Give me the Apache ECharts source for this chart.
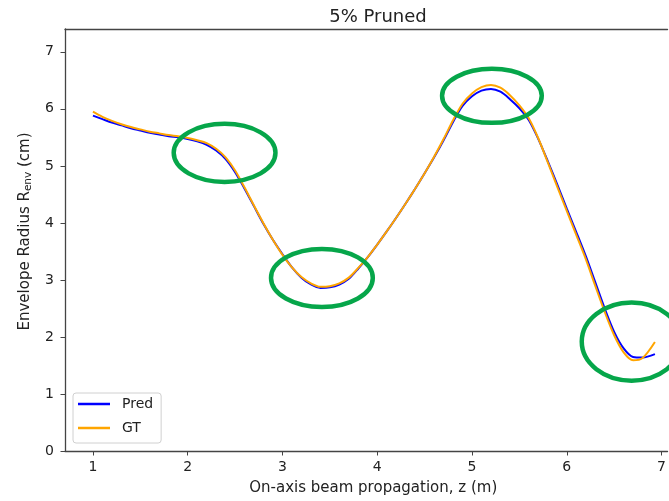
<!DOCTYPE html>
<html>
<head>
<meta charset="utf-8">
<script src="https://cdn.jsdelivr.net/npm/echarts@6/dist/echarts.min.js"></script>
<style>
  html, body { margin: 0; padding: 0; background: #fff; }
  #chart { width: 669px; height: 501px; }
</style>
</head>
<body>
<div id="chart"></div>
<script>
// ---- data ----
const titleText = '5% Pruned';
const zPos  = [1.0, 1.1, 1.2, 1.3, 1.4, 1.5, 1.6, 1.7, 1.8, 1.9,
               2.0, 2.1, 2.2, 2.3, 2.4, 2.5, 2.6, 2.7, 2.8, 2.9,
               3.0, 3.1, 3.2, 3.3, 3.4, 3.5, 3.6, 3.7, 3.8, 3.9,
               4.0, 4.1, 4.2, 4.3, 4.4, 4.5, 4.6, 4.7, 4.8, 4.9,
               5.0, 5.1, 5.2, 5.3, 5.4, 5.5, 5.6, 5.7, 5.8, 5.9,
               6.0, 6.1, 6.2, 6.3, 6.4, 6.5, 6.6, 6.7, 6.8, 6.93];
const predR = [5.88, 5.82, 5.76, 5.71, 5.66, 5.62, 5.58, 5.55, 5.52, 5.50,
               5.47, 5.43, 5.37, 5.27, 5.12, 4.89, 4.60, 4.29, 3.98, 3.70,
               3.45, 3.22, 3.04, 2.92, 2.86, 2.87, 2.92, 3.02, 3.20, 3.40,
               3.62, 3.85, 4.09, 4.34, 4.60, 4.87, 5.15, 5.45, 5.77, 6.05,
               6.22, 6.32, 6.35, 6.30, 6.17, 6.01, 5.80, 5.47, 5.08, 4.67,
               4.25, 3.84, 3.42, 2.96, 2.50, 2.09, 1.80, 1.65, 1.64, 1.70];
const gtR   = [5.95, 5.86, 5.79, 5.73, 5.68, 5.64, 5.60, 5.57, 5.54, 5.52,
               5.49, 5.45, 5.40, 5.30, 5.15, 4.92, 4.62, 4.30, 3.99, 3.70,
               3.44, 3.22, 3.05, 2.94, 2.88, 2.89, 2.94, 3.04, 3.21, 3.40,
               3.62, 3.85, 4.09, 4.34, 4.60, 4.87, 5.16, 5.47, 5.80, 6.09,
               6.27, 6.38, 6.42, 6.37, 6.24, 6.06, 5.83, 5.48, 5.06, 4.63,
               4.21, 3.79, 3.37, 2.90, 2.44, 2.03, 1.73, 1.59, 1.63, 1.91];
const xTicks = [1, 2, 3, 4, 5, 6, 7];
const yTicks = [0, 1, 2, 3, 4, 5, 6, 7];
// highlight ellipses (data units: centre z, centre R, half-width, half-height)
const ellipseZ  = [2.389, 3.416, 5.21, 6.684];
const ellipseR  = [5.228, 3.035, 6.228, 1.918];
const ellipseRz = [0.537, 0.537, 0.526, 0.526];
const ellipseRr = [0.509, 0.509, 0.474, 0.684];

const predData = zPos.map((z, i) => [z, predR[i]]);
const gtData = zPos.map((z, i) => [z, gtR[i]]);
const ellData = ellipseZ.map((z, i) => [z, ellipseR[i], ellipseRz[i], ellipseRr[i]]);

const font = 'DejaVu Sans';
const xMin = 0.705, xMax = 7.063;
const chart = echarts.init(document.getElementById('chart'), null, { renderer: 'canvas' });
chart.setOption({
  animation: false,
  backgroundColor: '#fff',
  title: {
    text: titleText,
    left: 373, top: 3, textAlign: 'center',
    textStyle: { fontFamily: font, fontSize: 18, fontWeight: 'normal', color: '#222' }
  },
  grid: { left: 65, top: 29, right: 0, bottom: 50, show: false },
  legend: {
    left: 73, top: 393, orient: 'vertical',
    padding: [4, 8, 8, 5], itemGap: 10,
    itemWidth: 32, itemHeight: 2.5, icon: 'rect',
    backgroundColor: 'rgba(255,255,255,0.8)', borderColor: '#d0d0d0', borderWidth: 1, borderRadius: 3,
    textStyle: { fontFamily: font, fontSize: 14, color: '#222', padding: [0, 0, 0, 7] },
    data: ['Pred', 'GT']
  },
  xAxis: [{
    type: 'value', min: xMin, max: xMax, position: 'bottom',
    name: 'On-axis beam propagation, z (m)', nameLocation: 'middle', nameGap: 30,
    nameTextStyle: { fontFamily: font, fontSize: 15, color: '#222', padding: [0, 0, 0, 14] },
    axisLine: { show: true, onZero: false, lineStyle: { color: '#444', width: 1.3 } },
    axisTick: { show: true, length: 4.5, customValues: xTicks, lineStyle: { color: '#444' } },
    axisLabel: { customValues: xTicks, margin: 9, fontFamily: font, fontSize: 14, color: '#222' },
    splitLine: { show: false }
  }, {
    type: 'value', min: xMin, max: xMax, position: 'top',
    axisLine: { show: true, onZero: false, lineStyle: { color: '#444', width: 1.3 } },
    axisTick: { show: false }, axisLabel: { show: false }, splitLine: { show: false }
  }],
  yAxis: {
    type: 'value', min: 0, max: 7.4,
    name: 'Envelope Radius R{sub|env} (cm)', nameLocation: 'middle', nameGap: 30,
    nameTextStyle: {
      fontFamily: font, fontSize: 15, color: '#222', padding: [0, 0, 0, 17],
      rich: { sub: { fontFamily: font, fontSize: 10.5, color: '#222', verticalAlign: 'bottom', padding: [7, 0, 0, 0] } }
    },
    axisLine: { show: true, onZero: false, lineStyle: { color: '#444', width: 1.3 } },
    axisTick: { show: true, length: 4.5, customValues: yTicks, lineStyle: { color: '#444' } },
    axisLabel: { customValues: yTicks, margin: 11, fontFamily: font, fontSize: 14, color: '#222' },
    splitLine: { show: false }
  },
  series: [
    {
      name: 'Pred', type: 'line', data: predData, smooth: 0.3, showSymbol: false,
      lineStyle: { color: '#0000ff', width: 2 }, itemStyle: { color: '#0000ff' }, z: 2
    },
    {
      name: 'GT', type: 'line', data: gtData, smooth: 0.3, showSymbol: false,
      lineStyle: { color: '#ffa500', width: 2 }, itemStyle: { color: '#ffa500' }, z: 3
    },
    {
      name: 'highlight', type: 'custom', data: ellData, z: 5, silent: true,
      clip: false,
      renderItem: function (params, api) {
        const c = api.coord([api.value(0), api.value(1)]);
        const s = api.size([api.value(2), api.value(3)]);
        return {
          type: 'ellipse',
          shape: { cx: c[0], cy: c[1], rx: s[0], ry: s[1] },
          style: { fill: 'none', stroke: '#06a64a', lineWidth: 4.5 }
        };
      }
    }
  ]
});
</script>
</body>
</html>
